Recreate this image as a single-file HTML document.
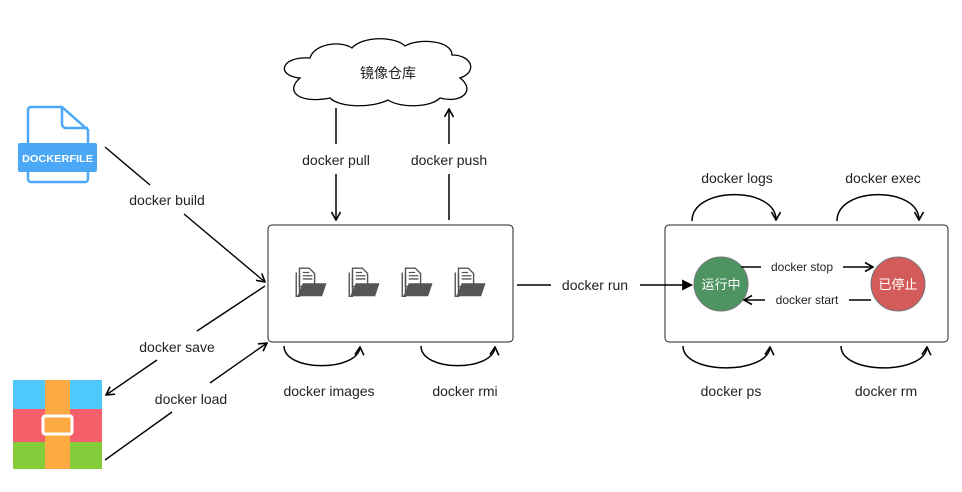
<!DOCTYPE html>
<html><head><meta charset="utf-8"><style>
html,body{margin:0;padding:0;background:#fff;}
svg{display:block;}
text{font-family:"Liberation Sans","Noto Sans CJK SC",sans-serif;font-size:14px;fill:#222;}
</style></head><body>
<svg width="962" height="492" viewBox="0 0 962 492" xmlns="http://www.w3.org/2000/svg">
<defs>
<marker id="oa" viewBox="0 0 10 10" refX="9" refY="5" markerWidth="10" markerHeight="10" markerUnits="userSpaceOnUse" orient="auto"><path d="M1,0.5 L9,5 L1,9.5" fill="none" stroke="#000" stroke-width="1.6"/></marker>
<marker id="fa" viewBox="0 0 10 10" refX="9" refY="5" markerWidth="11" markerHeight="11" markerUnits="userSpaceOnUse" orient="auto"><path d="M0,0 L10,5 L0,10 Z" fill="#000"/></marker>
<g id="fold">
<path d="M6,2 h9 l5,5 v12 h-14 z" fill="#fff" stroke="#555" stroke-width="1.3"/>
<path d="M9,6 h6 M9,9 h9 M9,12 h9" stroke="#555" stroke-width="1.2"/>
<path d="M3,6 v22 h3 v-20" fill="none" stroke="#555" stroke-width="1.3"/>
<path d="M9,16 h22 l-4,12 h-23 z" fill="#555"/>
</g>
</defs>
<!-- cloud -->
<path d="M300,78 C276,76 280,56 310,58 C314,44 340,40 352,48 C362,36 395,36 405,46 C418,38 452,40 452,55 C472,55 478,72 460,78 C476,90 462,104 440,98 C430,108 400,108 388,100 C372,108 340,108 330,98 C300,104 284,92 300,78 Z" fill="#fff" stroke="#000" stroke-width="1.3"/>
<text x="388" y="78" text-anchor="middle">镜像仓库</text>
<!-- dockerfile icon -->
<path d="M31,107 h31 l26,23 v49 a3,3 0 0 1 -3,3 h-54 a3,3 0 0 1 -3,-3 v-69 a3,3 0 0 1 3,-3 z" fill="#fff" stroke="#4aa8f7" stroke-width="2.5"/>
<path d="M62,107 v17 a4,4 0 0 0 4,4 h22" fill="none" stroke="#4aa8f7" stroke-width="2.5"/>
<rect x="18" y="143" width="79" height="29" rx="2" fill="#4aa8f7"/>
<text x="57.5" y="162" text-anchor="middle" textLength="71" lengthAdjust="spacingAndGlyphs" style="font-size:10.5px;font-weight:bold;fill:#fff">DOCKERFILE</text>
<!-- archive icon -->
<rect x="13" y="380" width="89" height="29" fill="#4fc8fb"/>
<rect x="13" y="409" width="89" height="33" fill="#f55f6a"/>
<rect x="13" y="442" width="89" height="27" fill="#84cc3a"/>
<rect x="45" y="380" width="25" height="89" fill="#fdaa42"/>
<rect x="43" y="416" width="29" height="18" rx="2" fill="#fdaa42" stroke="#fff" stroke-width="3"/>
<!-- main boxes -->
<rect x="268" y="225" width="245" height="117" rx="4" fill="#fff" stroke="#222" stroke-width="1"/>
<rect x="665" y="225" width="283" height="117" rx="4" fill="#fff" stroke="#222" stroke-width="1"/>
<use href="#fold" transform="translate(293,266) scale(1.08)"/>
<use href="#fold" transform="translate(346,266) scale(1.08)"/>
<use href="#fold" transform="translate(399,266) scale(1.08)"/>
<use href="#fold" transform="translate(452,266) scale(1.08)"/>
<!-- pull/push -->
<line x1="336" y1="108" x2="336" y2="144" stroke="#000" stroke-width="1.5"/>
<line x1="336" y1="174" x2="336" y2="220" stroke="#000" stroke-width="1.5" marker-end="url(#oa)"/>
<text x="336" y="165" text-anchor="middle">docker pull</text>
<line x1="449" y1="220" x2="449" y2="174" stroke="#000" stroke-width="1.5"/>
<line x1="449" y1="144" x2="449" y2="109" stroke="#000" stroke-width="1.5" marker-end="url(#oa)"/>
<text x="449" y="165" text-anchor="middle">docker push</text>
<!-- build -->
<line x1="105" y1="147" x2="150" y2="185" stroke="#000" stroke-width="1.4"/>
<line x1="184" y1="214" x2="265" y2="282" stroke="#000" stroke-width="1.4" marker-end="url(#oa)"/>
<text x="167" y="205" text-anchor="middle">docker build</text>
<!-- save -->
<line x1="265" y1="286" x2="197" y2="331" stroke="#000" stroke-width="1.4"/>
<line x1="157" y1="360" x2="106" y2="395" stroke="#000" stroke-width="1.4" marker-end="url(#oa)"/>
<text x="177" y="352" text-anchor="middle">docker save</text>
<!-- load -->
<line x1="210" y1="383" x2="267" y2="343" stroke="#000" stroke-width="1.4" marker-end="url(#oa)"/>
<line x1="105" y1="460" x2="172" y2="412" stroke="#000" stroke-width="1.4"/>
<text x="191" y="404" text-anchor="middle">docker load</text>
<!-- images/rmi loops -->
<path d="M284,346 C284,372 358,372 360,347" fill="none" stroke="#000" stroke-width="1.5" marker-end="url(#oa)"/>
<text x="329" y="396" text-anchor="middle">docker images</text>
<path d="M421,346 C421,372 493,372 495,347" fill="none" stroke="#000" stroke-width="1.5" marker-end="url(#oa)"/>
<text x="465" y="396" text-anchor="middle">docker rmi</text>
<!-- run -->
<line x1="517" y1="285" x2="551" y2="285" stroke="#000" stroke-width="1.5"/>
<line x1="640" y1="285" x2="692" y2="285" stroke="#000" stroke-width="1.5" marker-end="url(#fa)"/>
<text x="595" y="290" text-anchor="middle">docker run</text>
<!-- circles -->
<circle cx="721" cy="284" r="27" fill="#4e9462" stroke="#777" stroke-width="1"/>
<text x="721" y="289" text-anchor="middle" style="fill:#fff;font-size:13px">运行中</text>
<circle cx="898" cy="284" r="27" fill="#d35c5b" stroke="#777" stroke-width="1"/>
<text x="898" y="289" text-anchor="middle" style="fill:#fff;font-size:13px">已停止</text>
<!-- stop/start -->
<line x1="741" y1="267" x2="761" y2="267" stroke="#000" stroke-width="1.5"/>
<line x1="843" y1="267" x2="873" y2="267" stroke="#000" stroke-width="1.5" marker-end="url(#oa)"/>
<text x="802" y="271" text-anchor="middle" style="font-size:12px">docker stop</text>
<line x1="871" y1="300" x2="849" y2="300" stroke="#000" stroke-width="1.5"/>
<line x1="765" y1="300" x2="744" y2="300" stroke="#000" stroke-width="1.5" marker-end="url(#oa)"/>
<text x="807" y="304" text-anchor="middle" style="font-size:12px">docker start</text>
<!-- top loops -->
<path d="M692,221 C692,186 776,186 776,220" fill="none" stroke="#000" stroke-width="1.5" marker-end="url(#oa)"/>
<text x="737" y="183" text-anchor="middle">docker logs</text>
<path d="M837,221 C837,186 919,186 919,220" fill="none" stroke="#000" stroke-width="1.5" marker-end="url(#oa)"/>
<text x="883" y="183" text-anchor="middle">docker exec</text>
<!-- bottom loops -->
<path d="M683,346 C683,375 768,375 770,347" fill="none" stroke="#000" stroke-width="1.5" marker-end="url(#oa)"/>
<text x="731" y="396" text-anchor="middle">docker ps</text>
<path d="M841,346 C841,375 925,375 927,347" fill="none" stroke="#000" stroke-width="1.5" marker-end="url(#oa)"/>
<text x="886" y="396" text-anchor="middle">docker rm</text>
</svg>
</body></html>
